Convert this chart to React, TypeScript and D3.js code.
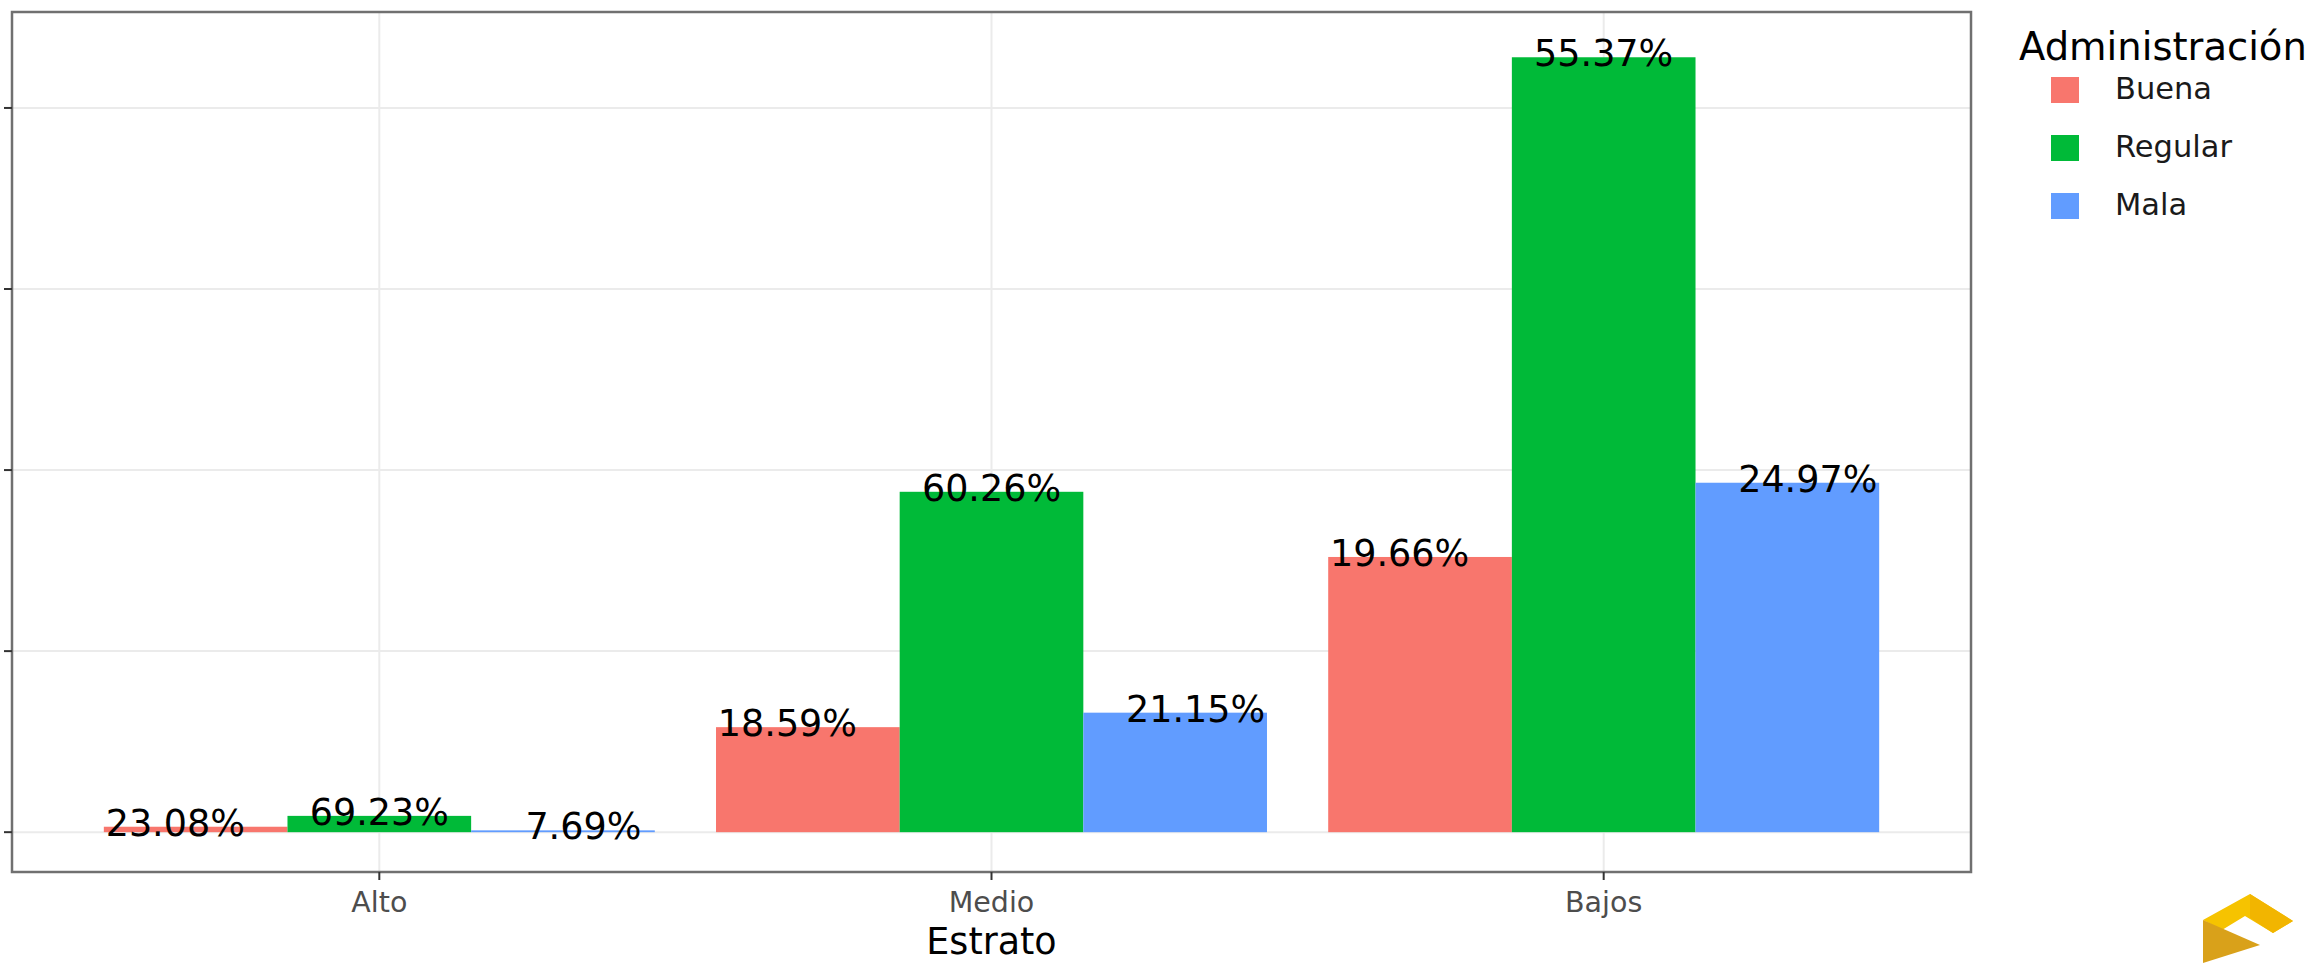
import React from "react";
import * as d3 from "d3";

const categories = ["Alto", "Medio", "Bajos"];
const groups = ["Buena", "Regular", "Mala"];
const buena = [3, 58, 152];
const regular = [9, 188, 428];
const mala = [1, 66, 193];
const pctLabels = [
  ["23.08%", "69.23%", "7.69%"],
  ["18.59%", "60.26%", "21.15%"],
  ["19.66%", "55.37%", "24.97%"],
];
const yTicks = [0, 100, 200, 300, 400];
const colors = ["#F8766D", "#00BA38", "#619CFF"];
const xTitle = "Estrato";
const legendTitle = "Administración";

const W = 2318;
const H = 963;
const FONT = "'DejaVu Sans', Verdana, sans-serif";

export default function App() {
  const left = 12, right = 1971, top = 12, bottom = 872;
  const x = d3.scalePoint<string>().domain(categories).range([left, right]).padding(0.6);
  const step = x.step();
  const y = d3.scaleLinear().domain([-22, 453]).range([bottom, top]);
  const series = [buena, regular, mala];
  const barW = (0.9 * step) / 3;

  const bars: any[] = [];
  const labels: any[] = [];
  categories.forEach((c, ci) => {
    const cx = x(c) as number;
    series.forEach((s, gi) => {
      const x0 = cx - 0.45 * step + gi * barW;
      const v = s[ci];
      bars.push(
        <rect key={`b${ci}${gi}`} x={x0} y={y(v)} width={barW} height={y(0) - y(v)} fill={colors[gi]} />
      );
      const lx = cx + (gi - 1) * (step / 3);
      labels.push(
        <text key={`l${ci}${gi}`} x={lx} y={y(v)} dy="0.25em" textAnchor="middle" fontSize={36.5} fill="#000" fontFamily={FONT}>
          {pctLabels[ci][gi]}
        </text>
      );
    });
  });

  return (
    <svg width={W} height={H} style={{ position: "absolute", left: 0, top: 0, background: "#fff" }}>
      <rect x={0} y={0} width={W} height={H} fill="#fff" />
      {yTicks.map((t) => (
        <line key={`gy${t}`} x1={left} x2={right} y1={y(t)} y2={y(t)} stroke="#EBEBEB" strokeWidth={2} />
      ))}
      {categories.map((c) => (
        <line key={`gx${c}`} x1={x(c)} x2={x(c)} y1={top} y2={bottom} stroke="#EBEBEB" strokeWidth={2} />
      ))}
      {bars}
      {labels}
      <rect x={left} y={top} width={right - left} height={bottom - top} fill="none" stroke="#707070" strokeWidth={2.5} />
      {yTicks.map((t) => (
        <line key={`ty${t}`} x1={4} x2={left} y1={y(t)} y2={y(t)} stroke="#333" strokeWidth={2} />
      ))}
      {categories.map((c) => (
        <g key={`tx${c}`}>
          <line x1={x(c)} x2={x(c)} y1={bottom} y2={bottom + 8} stroke="#333" strokeWidth={2} />
          <text x={x(c)} y={912} textAnchor="middle" fontSize={28.5} fill="#4D4D4D" fontFamily={FONT}>
            {c}
          </text>
        </g>
      ))}
      <text x={(left + right) / 2} y={954} textAnchor="middle" fontSize={36.5} fill="#000" fontFamily={FONT}>
        {xTitle}
      </text>
      <text x={2019} y={60} fontSize={38.5} fill="#000" fontFamily={FONT}>
        {legendTitle}
      </text>
      {groups.map((g, i) => (
        <g key={`lg${g}`}>
          <rect x={2051} y={77 + i * 58} width={28} height={26} fill={colors[i]} />
          <text x={2115} y={99 + i * 58} fontSize={30.5} fill="#1A1A1A" fontFamily={FONT}>
            {g}
          </text>
        </g>
      ))}
      <g>
        <polygon points="2203,920 2250,894 2293,921 2273,933 2245,916 2222,930" fill="#F6C300" />
        <polygon points="2250,894 2293,921 2273,933 2250,918" fill="#F2B500" />
        <polygon points="2203,920 2260,945 2203,963" fill="#D9A11A" />
      </g>
    </svg>
  );
}
